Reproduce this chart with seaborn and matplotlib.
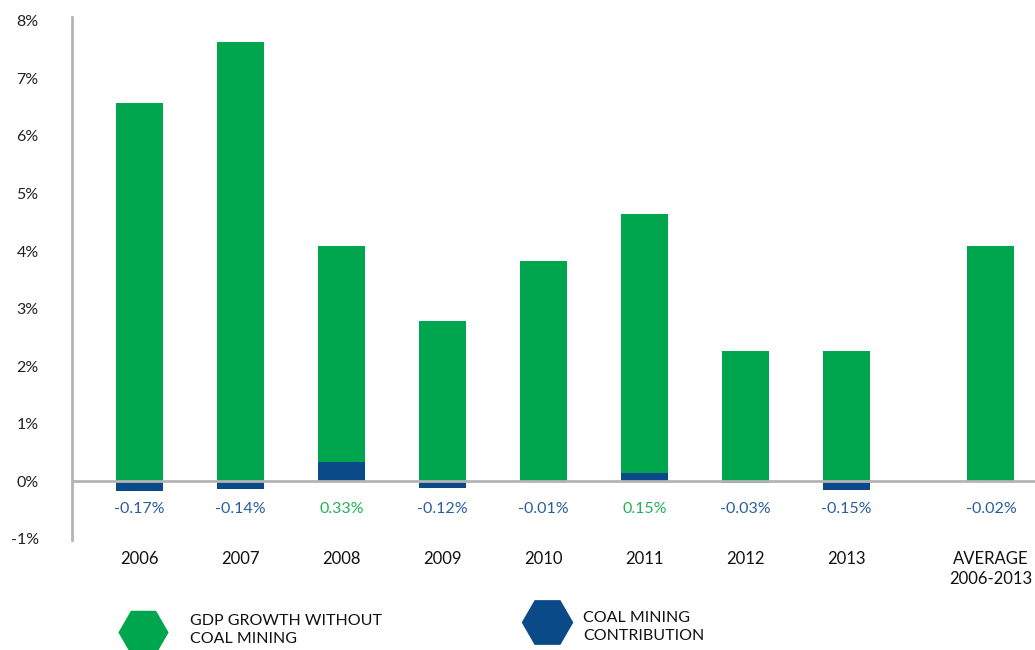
import matplotlib.pyplot as plt
import seaborn as sns
import numpy as np
from matplotlib.lines import Line2D

# values (percent)
categories = ["2006", "2007", "2008", "2009", "2010", "2011", "2012", "2013", "AVERAGE\n2006-2013"]
gdp_without_coal = [6.57, 7.63, 4.09, 2.78, 3.83, 4.64, 2.26, 2.26, 4.09]
coal_contribution = [-0.17, -0.14, 0.33, -0.12, -0.01, 0.15, -0.03, -0.15, -0.02]
coal_labels = ["-0.17%", "-0.14%", "0.33%", "-0.12%", "-0.01%", "0.15%", "-0.03%", "-0.15%", "-0.02%"]

GREEN = "#00a64d"
BLUE = "#0b4a89"
LABEL_BLUE = "#2a5d9e"
LABEL_GREEN = "#1fb356"
GREY = "#b4b4b4"

sns.set_style("white")
plt.rcParams["font.family"] = ["Lato", "DejaVu Sans"]

# leave a gap before the average bar
pos = np.arange(len(categories), dtype=float)
pos[-1] += 0.43

fig = plt.figure(figsize=(10.35, 6.5), dpi=100)
ax = fig.add_axes([0.0696, 0.169, 0.9304, 0.805])

sns.barplot(x=pos, y=gdp_without_coal, native_scale=True, color=GREEN,
            saturation=1, width=0.465, linewidth=0, ax=ax, zorder=2)
sns.barplot(x=pos, y=coal_contribution, native_scale=True, color=BLUE,
            saturation=1, width=0.465, linewidth=0, ax=ax, zorder=3)

ax.axhline(0, color=GREY, lw=2, zorder=4)

for p, v, lab in zip(pos, coal_contribution, coal_labels):
    ax.text(p, -0.49, lab, ha="center", va="center", fontsize=11.5,
            color=LABEL_GREEN if v > 0 else LABEL_BLUE)

ax.set_xlim(-0.668, 8.866)
ax.set_ylim(-1.026, 8.07)
ax.set_yticks(range(-1, 9))
ax.set_yticklabels([f"{t}%" for t in range(-1, 9)], fontsize=11.5, color="#222222")
ax.set_xticks(pos)
ax.set_xticklabels(categories, fontsize=12, color="#111111", va="top", linespacing=1.3)
ax.tick_params(axis="x", length=0, pad=8)
ax.tick_params(axis="y", length=0, pad=24)
ax.set_xlabel("")
ax.set_ylabel("")

for s in ["top", "right", "bottom"]:
    ax.spines[s].set_visible(False)
ax.spines["left"].set_color(GREY)
ax.spines["left"].set_linewidth(2)

# legend with hexagon markers at the bottom
fig.add_artist(Line2D([143 / 1035], [1 - 632 / 650], marker="H", markersize=35,
                      color=GREEN, linestyle="none", transform=fig.transFigure))
fig.text(190 / 1035, 1 - 630 / 650, "GDP GROWTH WITHOUT\nCOAL MINING", fontsize=11.5,
         va="center", ha="left", color="#111111", linespacing=1.45)
fig.add_artist(Line2D([547 / 1035], [1 - 622 / 650], marker="H", markersize=36,
                      color=BLUE, linestyle="none", transform=fig.transFigure))
fig.text(583 / 1035, 1 - 627 / 650, "COAL MINING\nCONTRIBUTION", fontsize=11.5,
         va="center", ha="left", color="#111111", linespacing=1.45)

fig.savefig("out.png", dpi=100)
